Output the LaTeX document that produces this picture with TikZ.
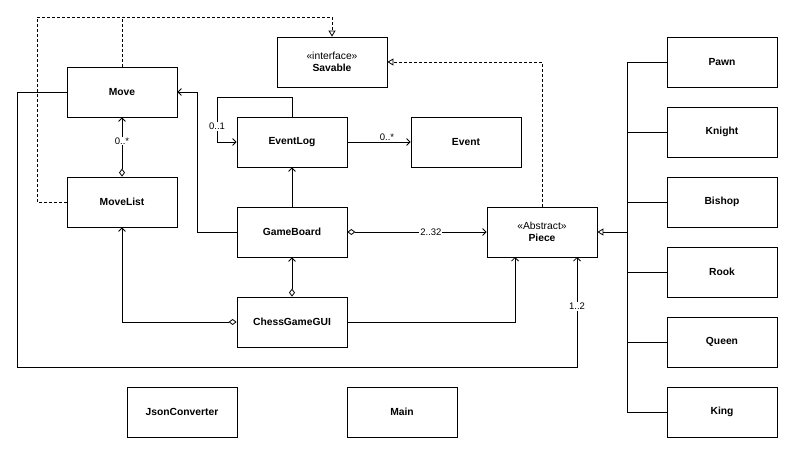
\documentclass[tikz,border=0pt]{standalone}
\usepackage{fontspec}
\setmainfont{Liberation Sans}
\usetikzlibrary{arrows.meta}
\begin{document}
\begin{tikzpicture}[x=1pt,y=-1pt,
  cls/.style={draw,line width=0.8pt,minimum width=110pt,minimum height=50pt,inner sep=0pt,font=\fontsize{10.3}{12.5}\selectfont\bfseries,align=center},
  conn/.style={line width=0.8pt},
  assoc/.style={conn,-{Straight Barb[length=3.5pt,width=7pt]}},
  aggr/.style={conn,{Diamond[open,length=8pt,width=6pt]}-{Straight Barb[length=3.5pt,width=7pt]}},
  inh/.style={conn,-{Triangle[open,length=6pt,width=7pt]}},
  real/.style={conn,dashed,dash pattern=on 3pt off 2pt,-{Triangle[open,length=6pt,width=7pt]}},
  lbl/.style={fill=white,inner sep=1pt,font=\fontsize{9.5}{11}\selectfont}
]
\useasboundingbox (0,0) rectangle (788,449);
\node[cls] (move) at (122,92) {Move};
\node[cls] (movelist) at (122,202) {MoveList};
\node[cls] (savable) at (332,62) {\mdseries«interface»\\Savable};
\node[cls] (eventlog) at (292,142) {EventLog};
\node[cls] (event) at (466,142) {Event};
\node[cls] (gameboard) at (292,232) {GameBoard};
\node[cls] (gui) at (292,322) {ChessGameGUI};
\node[cls] (piece) at (542,232) {\mdseries«Abstract»\\Piece};
\node[cls] (json) at (182,412) {JsonConverter};
\node[cls] (main) at (402,412) {Main};
\node[cls] (pawn) at (722,62) {Pawn};
\node[cls] (knight) at (722,132) {Knight};
\node[cls] (bishop) at (722,202) {Bishop};
\node[cls] (rook) at (722,272) {Rook};
\node[cls] (queen) at (722,342) {Queen};
\node[cls] (king) at (722,412) {King};

% inheritance tree
\coordinate (tt) at (627,62);
\coordinate (tb) at (627,412);
\draw[conn] (pawn.west) -- (tt) -- (tb) -- (king.west);
\draw[conn] (knight.west) -- (627,132);
\draw[conn] (bishop.west) -- (627,202);
\draw[conn] (rook.west) -- (627,272);
\draw[conn] (queen.west) -- (627,342);
\draw[inh] (627,232) -- (piece.east);

% realizations
\draw[real] (piece.north) |- (savable.east);
\draw[conn,dashed,dash pattern=on 3pt off 2pt] (movelist.west) -| (37,17) -- (122,17);
\draw[real] (move.north) -- (122,17) -- (332,17) -- (savable.north);

% associations
\draw[assoc] (move.west) -- (17,92) -- (17,367) -- (577,367) -- node[lbl,pos=0.55]{1..2} (577,257);
\draw[assoc] (gameboard.west) -- (197,232) -- (197,92) -- (move.east);
\draw[aggr] (movelist.north) -- node[lbl,pos=0.6]{0..*} (move.south);
\draw[assoc] (292,117) -- (292,97) -- (217,97) -- node[lbl,pos=0.65]{0..1} (217,142) -- (eventlog.west);
\draw[assoc] (eventlog.east) -- (event.west);
\node[inner sep=0pt,font=\fontsize{9.5}{11}\selectfont] at (387,137) {0..*};
\draw[assoc] (gameboard.north) -- (eventlog.south);
\draw[aggr] (gameboard.east) -- node[lbl,pos=0.6]{2..32} (piece.west);
\draw[aggr] (gui.north) -- (gameboard.south);
\draw[aggr] (gui.west) -| (movelist.south);
\draw[assoc] (gui.east) -| (515,257);
\end{tikzpicture}
\end{document}
